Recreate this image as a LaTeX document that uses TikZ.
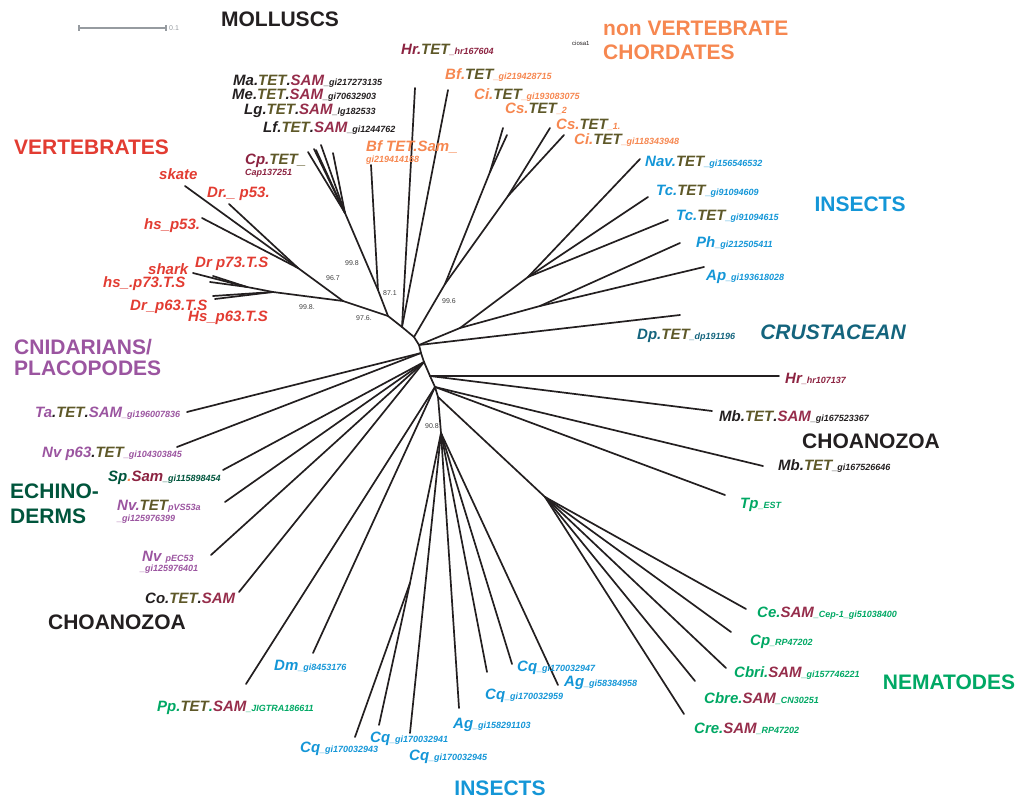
\documentclass[tikz,border=0pt]{standalone}
\usepackage{fontspec}
\setmainfont{Liberation Sans}
\definecolor{olv}{RGB}{94,88,40}
\definecolor{sam}{RGB}{150,45,75}
\definecolor{vrt}{RGB}{226,60,50}
\definecolor{org}{RGB}{246,135,80}
\definecolor{ins}{RGB}{20,150,215}
\definecolor{crs}{RGB}{20,100,125}
\definecolor{cni}{RGB}{155,85,160}
\definecolor{ech}{RGB}{0,85,60}
\definecolor{nem}{RGB}{0,168,100}
\definecolor{drk}{RGB}{35,31,32}
\definecolor{mar}{RGB}{140,35,65}
\definecolor{sbar}{RGB}{150,155,160}
\newcommand\sbs[1]{{\fontsize{9}{10}\selectfont #1}}
\begin{document}
\begin{tikzpicture}[x=1pt,y=-1pt,
 br/.style={line width=1.7pt, draw=drk, line cap=round, line join=round},
 lf/.style={anchor=base west, inner sep=0pt, font=\bfseries\itshape\fontsize{15}{16}\selectfont},
 hd/.style={inner sep=0pt, font=\bfseries\fontsize{21}{24}\selectfont},
 hdl/.style={hd, anchor=base west},
 bs/.style={inner sep=0pt, font=\fontsize{7}{8}\selectfont, text=black!75}]
\useasboundingbox (0,0) rectangle (1022,799);
% ---------- scale bar
\coordinate (sb1) at (79,28); \coordinate (sb2) at (166,28);
\draw[sbar, line width=2pt] (sb1) -- (sb2);
\draw[sbar, line width=1.5pt] ([yshift=-3pt]sb1) -- ([yshift=3pt]sb1);
\draw[sbar, line width=1.5pt] ([yshift=-3pt]sb2) -- ([yshift=3pt]sb2);
\node[anchor=west, inner sep=0pt, font=\fontsize{7}{8}\selectfont, text=sbar] (sbl) at (169,28) {0.1};
\node[anchor=west, inner sep=0pt, font=\fontsize{6}{7}\selectfont, text=drk] (cio) at (572,43) {ciosa1};
% ---------- backbone
\coordinate (B1) at (388,316);
\coordinate (B2) at (402,327);
\coordinate (B3) at (414,337);
\coordinate (B4) at (419,345);
\coordinate (B5) at (421,353);
\coordinate (B6) at (424,362);
\coordinate (B7) at (430,376);
\coordinate (B8) at (435,387);
\coordinate (B9) at (438,397);
\coordinate (B10) at (441,433);
\draw[br] (B1)--(B2)--(B3)--(B4)--(B5)--(B6)--(B7)--(B8)--(B9)--(B10);
% ---------- vertebrates
\coordinate (V) at (343,301);
\coordinate (P53) at (298,268);
\coordinate (J63) at (273,292);
\coordinate (P73) at (247,287);
\coordinate (eSkate) at (185,186);
\coordinate (eDrp53) at (229,204);
\coordinate (eHsp53) at (202,218);
\coordinate (eShark) at (193,273);
\coordinate (eHsp73) at (210,282);
\coordinate (eDrp73) at (213,276);
\coordinate (eDrp63) at (213,296);
\coordinate (eHsp63) at (215,299);
\draw[br] (B1)--(V);
\draw[br] (V)--(P53);
\draw[br] (P53)--(eSkate); \draw[br] (P53)--(eDrp53); \draw[br] (P53)--(eHsp53);
\draw[br] (V)--(J63)--(P73);
\draw[br] (P73)--(eShark); \draw[br] (P73)--(eHsp73); \draw[br] (P73)--(eDrp73);
\draw[br] (J63)--(eDrp63); \draw[br] (J63)--(eHsp63);
% ---------- molluscs
\coordinate (Mo2) at (378,290);
\coordinate (Mo) at (345,213);
\coordinate (eCp) at (308,152);
\coordinate (eMa) at (314,149);
\coordinate (eMe) at (316,150);
\coordinate (eLg) at (321,145);
\coordinate (eLf) at (333,153);
\coordinate (eBfS) at (371,165);
\draw[br] (B1)--(Mo2)--(Mo);
\draw[br] (Mo2)--(eBfS);
\foreach \e in {eCp,eMa,eMe,eLg,eLf} \draw[br] (Mo)--(\e);
% ---------- Hr / Bf
\coordinate (eHrT) at (415,88);
\coordinate (eBfT) at (448,90);
\draw[br] (B2)--(eHrT); \draw[br] (B2)--(eBfT);
% ---------- chordates
\coordinate (C2) at (445,284);
\coordinate (C3) at (490,172);
\coordinate (C4) at (508,196);
\coordinate (eCi193) at (503,128);
\coordinate (eCs2) at (507,135);
\coordinate (eCs1) at (550,128);
\coordinate (eCi118) at (564,135);
\draw[br] (B3)--(C2)--(C3);
\draw[br] (C3)--(eCi193); \draw[br] (C3)--(eCs2);
\draw[br] (C2)--(C4);
\draw[br] (C4)--(eCs1); \draw[br] (C4)--(eCi118);
% ---------- top insects and crustacean
\coordinate (I0) at (460,328);
\coordinate (I1) at (528,277);
\coordinate (I2) at (540,306);
\coordinate (eNav) at (640,159);
\coordinate (eTc1) at (648,197);
\coordinate (eTc2) at (668,220);
\coordinate (ePh) at (680,243);
\coordinate (eAp) at (704,267);
\coordinate (eDp) at (680,315);
\draw[br] (B4)--(I0);
\draw[br] (I0)--(I1); \draw[br] (I0)--(I2);
\foreach \e in {eNav,eTc1,eTc2} \draw[br] (I1)--(\e);
\foreach \e in {ePh,eAp} \draw[br] (I2)--(\e);
\draw[br] (B4)--(eDp);
% ---------- cnidarians etc
\coordinate (eTa) at (187,412);
\coordinate (eNvp63) at (177,447);
\coordinate (eSp) at (223,470);
\coordinate (eNvT) at (225,502);
\coordinate (eNvE) at (211,555);
\coordinate (eCo) at (239,592);
\draw[br] (B5)--(eTa); \draw[br] (B5)--(eNvp63);
\foreach \e in {eSp,eNvT,eNvE,eCo} \draw[br] (B6)--(\e);
% ---------- choanozoa etc
\coordinate (eHr2) at (779,376);
\coordinate (eMbTS) at (712,411);
\coordinate (eMbT) at (763,466);
\coordinate (eTp) at (725,495);
\coordinate (ePp) at (246,684);
\coordinate (eDm) at (313,653);
\draw[br] (B7)--(eHr2); \draw[br] (B7)--(eMbTS);
\foreach \e in {eMbT,eTp,ePp,eDm} \draw[br] (B8)--(\e);
% ---------- nematodes
\coordinate (N0) at (545,497);
\coordinate (eCe) at (746,609);
\coordinate (eCpn) at (731,632);
\coordinate (eCbri) at (726,668);
\coordinate (eCbre) at (695,681);
\coordinate (eCre) at (684,714);
\draw[br] (B9)--(N0);
\foreach \e in {eCe,eCpn,eCbri,eCbre,eCre} \draw[br] (N0)--(\e);
% ---------- bottom insects
\coordinate (Q1) at (410,583);
\coordinate (eCq943) at (355,737);
\coordinate (eCq941) at (379,725);
\coordinate (eCq945) at (410,733);
\coordinate (eAg158) at (459,708);
\coordinate (eCq959) at (487,672);
\coordinate (eCq947) at (512,664);
\coordinate (eAg583) at (558,685);
\draw[br] (B10)--(Q1);
\draw[br] (Q1)--(eCq943); \draw[br] (Q1)--(eCq941);
\foreach \e in {eCq945,eAg158,eCq959,eCq947,eAg583} \draw[br] (B10)--(\e);
% ---------- bootstrap values
\node[bs] (b1) at (352,263) {99.8};
\node[bs] (b2) at (333,278) {96.7};
\node[bs] (b3) at (390,293) {87.1};
\node[bs] (b4) at (449,301) {99.6};
\node[bs] (b5) at (307,307) {99.8.};
\node[bs] (b6) at (364,318) {97.6.};
\node[bs] (b7) at (432,426) {90.8};
% ---------- headings
\node[hd, text=drk] (hMol) at (280,19) {MOLLUSCS};
\node[hdl, text=org] (hNv1) at (603,36) {non VERTEBRATE};
\node[hdl, text=org] (hNv2) at (603,60) {CHORDATES};
\node[hdl, text=vrt] (hVert) at (14,155) {VERTEBRATES};
\node[hd, text=ins] (hIns1) at (860,204) {INSECTS};
\node[hd, text=crs, font=\bfseries\itshape\fontsize{21}{24}\selectfont] (hCrus) at (833,332) {CRUSTACEAN};
\node[hdl, text=cni] (hCn1) at (14,355) {CNIDARIANS/};
\node[hdl, text=cni] (hCn2) at (14,375) {PLACOPODES};
\node[hdl, text=ech] (hEc1) at (10,498) {ECHINO-};
\node[hdl, text=ech] (hEc2) at (10,523) {DERMS};
\node[hd, text=drk] (hCho1) at (871,441) {CHOANOZOA};
\node[hd, text=drk] (hCho2) at (117,622) {CHOANOZOA};
\node[hd, text=nem] (hNem) at (949,682) {NEMATODES};
\node[hd, text=ins] (hIns2) at (500,788) {INSECTS};
% ---------- leaf labels: molluscs
\node[lf, text=drk] (lMa) at (233,86) {Ma.\textcolor{olv}{TET}.\textcolor{sam}{SAM}\sbs{\_gi217273135}};
\node[lf, text=drk] (lMe) at (232,100) {Me.\textcolor{olv}{TET}.\textcolor{sam}{SAM}\sbs{\_gi70632903}};
\node[lf, text=drk] (lLg) at (244,115) {Lg.\textcolor{olv}{TET}.\textcolor{sam}{SAM}\sbs{\_lg182533}};
\node[lf, text=drk] (lLf) at (263,133) {Lf.\textcolor{olv}{TET}.\textcolor{sam}{SAM}\sbs{\_gi1244762}};
\node[lf, text=mar] (lCp) at (245,165) {Cp.\textcolor{olv}{TET\_}};
\node[lf, text=mar] (lCp2) at (245,176) {\sbs{Cap137251}};
\node[lf, text=org] (lBfS) at (366,152) {Bf TET.Sam\_};
\node[lf, text=org] (lBfS2) at (366,163) {\sbs{gi219414168}};
\node[lf, text=mar] (lHrT) at (401,55) {Hr.\textcolor{olv}{TET}\sbs{\_hr167604}};
% chordates
\node[lf, text=org] (lBfT) at (445,80) {Bf.\textcolor{olv}{TET}\sbs{\_gi219428715}};
\node[lf, text=org] (lCi193) at (474,100) {Ci.\textcolor{olv}{TET}\sbs{\_gi193083075}};
\node[lf, text=org] (lCs2) at (505,114) {Cs.\textcolor{olv}{TET}\sbs{\_2}};
\node[lf, text=org] (lCs1) at (556,130) {Cs.\textcolor{olv}{TET}\sbs{\_1.}};
\node[lf, text=org] (lCi118) at (574,145) {Ci.\textcolor{olv}{TET}\sbs{\_gi118343948}};
% top insects
\node[lf, text=ins] (lNav) at (645,167) {Nav.\textcolor{olv}{TET}\sbs{\_gi156546532}};
\node[lf, text=ins] (lTc1) at (656,196) {Tc.\textcolor{olv}{TET}\sbs{\_gi91094609}};
\node[lf, text=ins] (lTc2) at (676,221) {Tc.\textcolor{olv}{TET}\sbs{\_gi91094615}};
\node[lf, text=ins] (lPh) at (696,248) {Ph\sbs{\_gi212505411}};
\node[lf, text=ins] (lAp) at (706,281) {Ap\sbs{\_gi193618028}};
\node[lf, text=crs] (lDp) at (637,339) {Dp.\textcolor{olv}{TET}\sbs{\_dp191196}};
% right side
\node[lf, text=mar] (lHr2) at (785,383) {Hr\sbs{\_hr107137}};
\node[lf, text=drk] (lMbTS) at (719,421) {Mb.\textcolor{olv}{TET}.\textcolor{sam}{SAM}\sbs{\_gi167523367}};
\node[lf, text=drk] (lMbT) at (778,470) {Mb.\textcolor{olv}{TET}\sbs{\_gi167526646}};
\node[lf, text=nem] (lTp) at (740,508) {Tp\sbs{\_EST}};
% nematodes
\node[lf, text=nem] (lCe) at (757,617) {Ce.\textcolor{sam}{SAM}\sbs{\_Cep-1\_gi51038400}};
\node[lf, text=nem] (lCpn) at (750,645) {Cp\sbs{\_RP47202}};
\node[lf, text=nem] (lCbri) at (734,677) {Cbri.\textcolor{sam}{SAM}\sbs{\_gi157746221}};
\node[lf, text=nem] (lCbre) at (704,703) {Cbre.\textcolor{sam}{SAM}\sbs{\_CN30251}};
\node[lf, text=nem] (lCre) at (694,733) {Cre.\textcolor{sam}{SAM}\sbs{\_RP47202}};
% bottom insects
\node[lf, text=ins] (lAg583) at (564,686) {Ag\sbs{\_gi58384958}};
\node[lf, text=ins] (lCq947) at (517,671) {Cq\sbs{\_gi170032947}};
\node[lf, text=ins] (lCq959) at (485,699) {Cq\sbs{\_gi170032959}};
\node[lf, text=ins] (lAg158) at (453,728) {Ag\sbs{\_gi158291103}};
\node[lf, text=ins] (lCq945) at (409,760) {Cq\sbs{\_gi170032945}};
\node[lf, text=ins] (lCq941) at (370,742) {Cq\sbs{\_gi170032941}};
\node[lf, text=ins] (lCq943) at (300,752) {Cq\sbs{\_gi170032943}};
\node[lf, text=ins] (lDm) at (274,670) {Dm\sbs{\_gi8453176}};
\node[lf, text=nem] (lPp) at (157,711) {Pp.\textcolor{olv}{TET}.\textcolor{sam}{SAM}\sbs{\_JIGTRA186611}};
% left side
\node[lf, text=drk] (lCo) at (145,603) {Co.\textcolor{olv}{TET}.\textcolor{sam}{SAM}};
\node[lf, text=cni] (lNvE) at (142,561) {Nv \sbs{pEC53}};
\node[lf, text=cni] (lNvE2) at (140,571) {\sbs{\_gi125976401}};
\node[lf, text=cni] (lNvT) at (117,510) {Nv.\textcolor{olv}{TET}\sbs{pVS53a}};
\node[lf, text=cni] (lNvT2) at (117,521) {\sbs{\_gi125976399}};
\node[lf, text=ech] (lSp) at (108,481) {Sp\textcolor{org}{.}\textcolor{mar}{Sam}\sbs{\_gi115898454}};
\node[lf, text=cni] (lNvp63) at (42,457) {Nv p63\textcolor{drk}{.}\textcolor{olv}{TET}\sbs{\_gi104303845}};
\node[lf, text=cni] (lTa) at (35,417) {Ta\textcolor{drk}{.}\textcolor{olv}{TET}\textcolor{drk}{.}SAM\sbs{\_gi196007836}};
% vertebrates
\node[lf, text=vrt] (lSkate) at (159,180) {skate};
\node[lf, text=vrt] (lDrp53) at (207,198) {Dr.\_ p53.};
\node[lf, text=vrt] (lHsp53) at (144,230) {hs\_p53.};
\node[lf, text=vrt] (lDrp73) at (195,268) {Dr p73.T.S};
\node[lf, text=vrt] (lShark) at (148,275) {shark};
\node[lf, text=vrt] (lHsp73) at (103,288) {hs\_.p73.T.S};
\node[lf, text=vrt] (lDrp63) at (130,311) {Dr\_p63.T.S};
\node[lf, text=vrt] (lHsp63) at (188,322) {Hs\_p63.T.S};
\end{tikzpicture}
\end{document}
